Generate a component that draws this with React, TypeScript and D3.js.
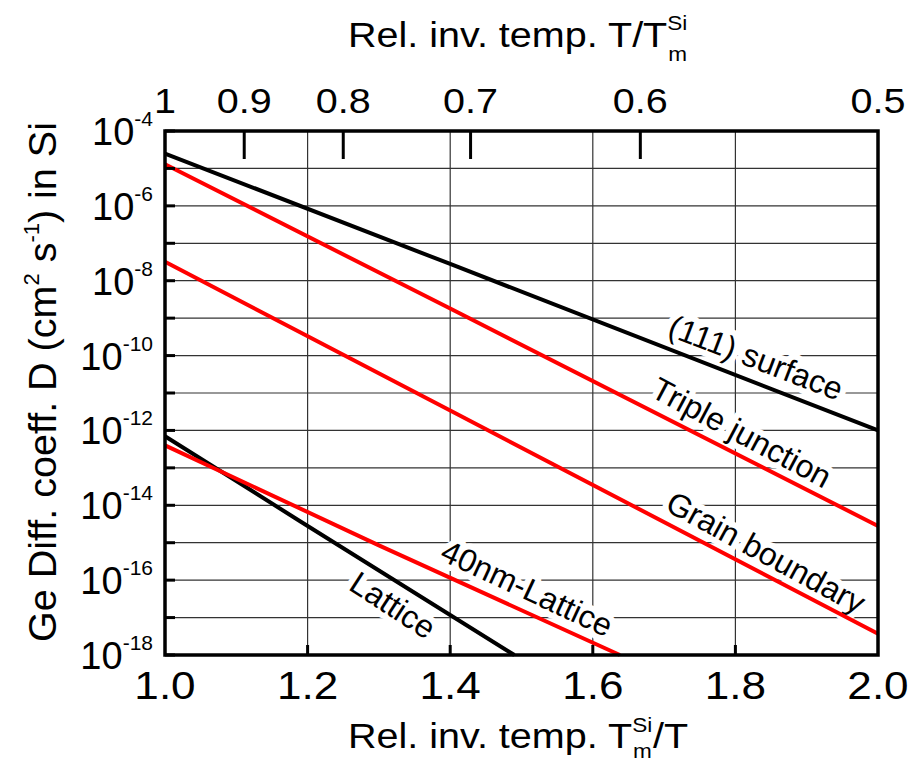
import React from 'react'
import * as d3 from 'd3'

type Pt = [number, number]

// bottom axis: Tm/T, top axis: T/Tm (same positions, 1/x)
const xTicks = [1.0, 1.2, 1.4, 1.6, 1.8, 2.0]
const topTicks = [1, 0.9, 0.8, 0.7, 0.6, 0.5]
const yDecades = [-4, -5, -6, -7, -8, -9, -10, -11, -12, -13, -14, -15, -16, -17, -18]
const yLabelDecades = [-4, -6, -8, -10, -12, -14, -16, -18]

// diffusion coefficients (cm^2/s)
const surface: Pt[] = [[1.0, 2.5e-5], [1.4, 2.8e-8], [2.0, 1.0e-12]]
const tripleJunction: Pt[] = [[1.0, 1.3e-5], [1.4, 1.8e-9], [2.0, 2.8e-15]]
const grainBoundary: Pt[] = [[1.0, 3.2e-8], [1.4, 3.4e-12], [2.0, 3.7e-18]]
const lattice: Pt[] = [[1.0, 7.0e-13], [1.19, 3.7e-15], [1.49, 1.0e-18]]
const lattice40nm: Pt[] = [[1.0, 4.0e-13], [1.3, 8.5e-16], [1.638, 1.0e-18]]

const seriesNames = ['(111) surface', 'Triple junction', 'Grain boundary', 'Lattice', '40nm-Lattice']
const seriesColors = ['#000000', '#ff0000', '#ff0000', '#000000', '#ff0000']
// label centre (x, D) and rotation in degrees
const labelX = [1.829, 1.809, 1.843, 1.32, 1.508]
const labelD = [9e-11, 9e-13, 5.6e-16, 2.2e-17, 6.2e-17]
const labelAngle = [21, 28, 28.5, 33, 25]

const W = 908
const H = 769
const left = 165
const right = 878
const top = 131
const bottom = 655
const stretch = 1.13 // the original's lettering is a bit wider than Arial
const font = '"Liberation Sans", Arial, sans-serif'

const App = () => {
    const x = d3.scaleLinear().domain([1, 2]).range([left, right])
    const y = d3.scaleLog().domain([1e-18, 1e-4]).range([bottom, top])

    const line = d3.line<Pt>()
        .x(d => x(d[0]))
        .y(d => y(d[1]))

    const data = [surface, tripleJunction, grainBoundary, lattice, lattice40nm]

    return (
        <svg width={W} height={H} style={{ position: 'absolute', left: 0, top: 0, background: '#fff' }}
            fontFamily={font}>
            {/* grid */}
            {yDecades.map(e => (
                <line key={'gy' + e} x1={left} x2={right} y1={y(Math.pow(10, e))} y2={y(Math.pow(10, e))}
                    stroke="#333" strokeWidth={1.2} />
            ))}
            {xTicks.slice(1, -1).map(v => (
                <line key={'gx' + v} x1={x(v)} x2={x(v)} y1={top} y2={bottom} stroke="#333" strokeWidth={1.2} />
            ))}

            {/* curve labels, a white copy underneath breaks the grid */}
            {seriesNames.map((name, i) => {
                const t = `translate(${x(labelX[i])},${y(labelD[i])}) rotate(${labelAngle[i]})`
                return (
                    <g key={'lbl' + i} transform={t}>
                        <text textAnchor="middle" dy="0.36em" fontSize={32} fill="#fff"
                            stroke="#fff" strokeWidth={12} strokeLinejoin="round">{name}</text>
                        <text textAnchor="middle" dy="0.36em" fontSize={32} fill="#000">{name}</text>
                    </g>
                )
            })}

            {/* curves */}
            {data.map((d, i) => (
                <path key={'s' + i} d={line(d)!} fill="none" stroke={seriesColors[i]} strokeWidth={4}
                    strokeLinejoin="round" />
            ))}

            {/* ticks */}
            {yDecades.map(e => (
                <line key={'ty' + e} x1={left} x2={left + 10} y1={y(Math.pow(10, e))} y2={y(Math.pow(10, e))}
                    stroke="#000" strokeWidth={3} />
            ))}
            {xTicks.slice(1, -1).map(v => (
                <line key={'tx' + v} x1={x(v)} x2={x(v)} y1={bottom} y2={bottom - 10} stroke="#000" strokeWidth={3} />
            ))}
            {topTicks.slice(1, -1).map(v => (
                <line key={'tt' + v} x1={x(1 / v)} x2={x(1 / v)} y1={top} y2={top + 28} stroke="#000" strokeWidth={3} />
            ))}

            {/* frame */}
            <rect x={left} y={top} width={right - left} height={bottom - top} fill="none" stroke="#000" strokeWidth={3.5} />

            {/* tick labels */}
            {xTicks.map(v => (
                <text key={'lx' + v} transform={`translate(${x(v)},699) scale(${stretch},1)`}
                    textAnchor="middle" fontSize={39}>{v.toFixed(1)}</text>
            ))}
            {topTicks.map(v => (
                <text key={'lt' + v} transform={`translate(${x(1 / v)},113) scale(${stretch},1)`}
                    textAnchor="middle" fontSize={35}>{String(v)}</text>
            ))}
            {yLabelDecades.map(e => (
                <text key={'ly' + e} x={153} y={y(Math.pow(10, e)) + 14} textAnchor="end" fontSize={38}>
                    10<tspan fontSize={21} dy={-19}>{String(e)}</tspan>
                </text>
            ))}

            {/* axis titles */}
            <text transform={`translate(348,47) scale(${stretch},1)`} fontSize={35}>
                Rel. inv. temp. T/T
                <tspan fontSize={20} dy={-17}>Si</tspan>
                <tspan fontSize={20} dx={-17} dy={31}>m</tspan>
            </text>
            <text transform={`translate(348,748) scale(${stretch},1)`} fontSize={35}>
                Rel. inv. temp. T
                <tspan fontSize={20} dy={-16}>Si</tspan>
                <tspan fontSize={20} dx={-17} dy={26}>m</tspan>
                <tspan dx={1} dy={-10}>/T</tspan>
            </text>
            <text transform="translate(56,382) rotate(-90)" textAnchor="middle" fontSize={39.5}>
                Ge Diff. coeff. D (cm
                <tspan fontSize={22} dy={-17}>2</tspan>
                <tspan dy={17}> s</tspan>
                <tspan fontSize={22} dy={-17}>-1</tspan>
                <tspan dy={17}>) in Si</tspan>
            </text>
        </svg>
    )
}

export default App
